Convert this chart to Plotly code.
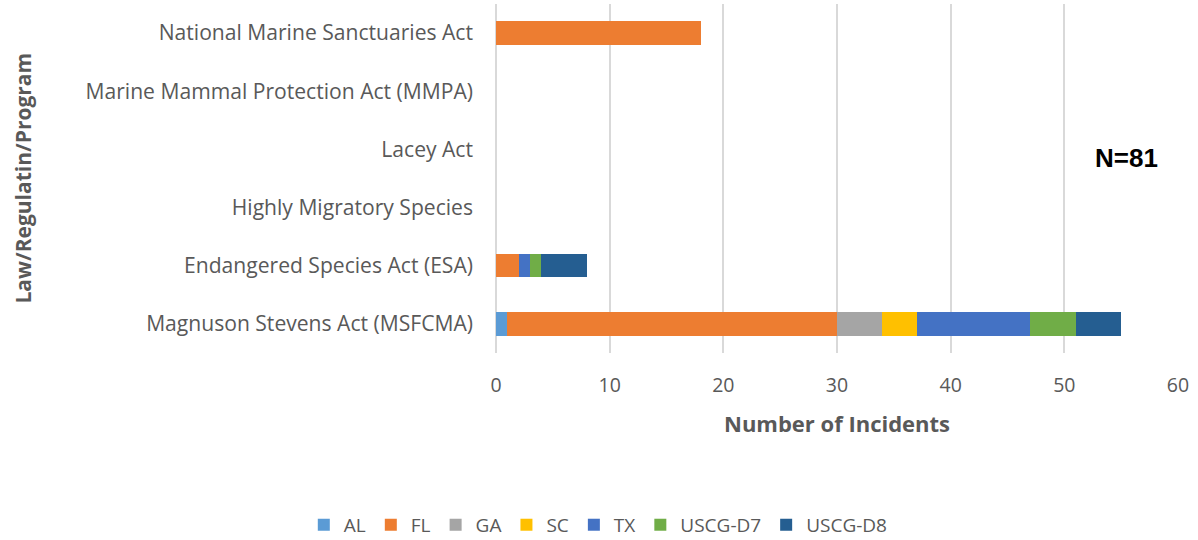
import plotly.graph_objects as go

categories = [
    "Magnuson Stevens Act (MSFCMA)",
    "Endangered Species Act (ESA)",
    "Highly Migratory Species",
    "Lacey Act",
    "Marine Mammal Protection Act (MMPA)",
    "National Marine Sanctuaries Act",
]
series_names = ["AL", "FL", "GA", "SC", "TX", "USCG-D7", "USCG-D8"]
AL = [1, 0, 0, 0, 0, 0]
FL = [29, 2, 0, 0, 0, 18]
GA = [4, 0, 0, 0, 0, 0]
SC = [3, 0, 0, 0, 0, 0]
TX = [10, 1, 0, 0, 0, 0]
USCG_D7 = [4, 1, 0, 0, 0, 0]
USCG_D8 = [4, 4, 0, 0, 0, 0]
values = [AL, FL, GA, SC, TX, USCG_D7, USCG_D8]
colors = ["#5B9BD5", "#ED7D31", "#A5A5A5", "#FFC000", "#4472C4", "#70AD47", "#255E91"]
x_ticks = [0, 10, 20, 30, 40, 50, 60]

fig = go.Figure()
for name, vals, col in zip(series_names, values, colors):
    fig.add_trace(go.Bar(
        y=categories, x=vals, name=name, orientation="h",
        marker=dict(color=col, line=dict(width=0)),
    ))

font_family = "Open Sans"
grey = "#595959"
fig.update_layout(
    width=1198, height=540,
    barmode="stack", bargap=0.6,
    plot_bgcolor="white", paper_bgcolor="white",
    margin=dict(l=496, r=20, t=4, b=187),
    font=dict(family=font_family, color=grey, size=20),
    xaxis=dict(
        range=[0, 60], tickvals=x_ticks, showgrid=True, gridcolor="#D9D9D9",
        gridwidth=1.5, zeroline=True, zerolinecolor="#D9D9D9", zerolinewidth=1.5,
        showline=False, ticks="", ticklabelstandoff=18,
        tickfont=dict(size=19.5, color=grey),
        automargin=False,
    ),
    yaxis=dict(
        categoryorder="array", categoryarray=categories,
        showgrid=False, zeroline=False, showline=False, ticks="",
        ticklabelstandoff=22,
        tickfont=dict(size=21.1, color=grey),
        automargin=False,
    ),
    legend=dict(
        orientation="h", x=0.15, xanchor="center",
        yref="container", y=0.028, yanchor="middle",
        font=dict(size=19, color=grey), traceorder="normal",
        itemwidth=30,
    ),
    showlegend=True,
)
fig.add_annotation(
    text="<b>Number of Incidents</b>", xref="paper", yref="paper", x=0.5, y=-0.2006,
    xanchor="center", yanchor="middle", showarrow=False,
    font=dict(size=22, color=grey, family=font_family),
)
fig.add_annotation(
    text="<b>Law/Regulatin/Program</b>", xref="paper", yref="paper", x=-0.695, y=0.5,
    xanchor="center", yanchor="middle", textangle=-90, showarrow=False,
    font=dict(size=21, color=grey, family=font_family),
)
fig.add_annotation(
    text="<b>N=81</b>", xref="paper", yref="paper", x=0.925, y=0.56,
    xanchor="center", yanchor="middle",
    showarrow=False, font=dict(size=26, color="black", family="Liberation Sans"),
)
fig.write_html("out.html", config={"displayModeBar": False},
               post_script="document.body.style.margin='0';")
